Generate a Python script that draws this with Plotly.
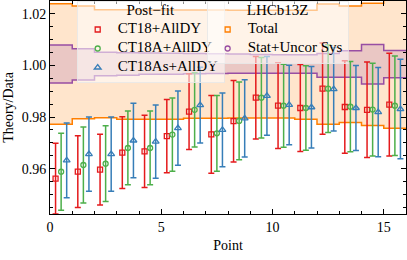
import numpy as np
import plotly.graph_objects as go

# ---- data ----
points = list(range(16))
ct18 = [0.9561, 0.9588, 0.9596, 0.9662, 0.9667, 0.9726, 0.9821, 0.9733,
        0.9784, 0.9875, 0.9844, 0.9835, 0.9910, 0.9839, 0.9828, 0.9848]
ct18_err = [0.0137, 0.0139, 0.0137, 0.0139, 0.0140, 0.0142, 0.0147, 0.0151,
            0.0158, 0.0160, 0.0166, 0.0169, 0.0177, 0.0179, 0.0185, 0.0199]
ct18a = [0.9588, 0.9614, 0.9619, 0.9680, 0.9680, 0.9732, 0.9828, 0.9737,
         0.9785, 0.9875, 0.9844, 0.9835, 0.9910, 0.9840, 0.9829, 0.9844]
ct18a_err = [0.0149, 0.0147, 0.0147, 0.0143, 0.0143, 0.0142, 0.0144, 0.0147,
             0.0151, 0.0156, 0.0161, 0.0164, 0.0170, 0.0175, 0.0180, 0.0193]
ct18as = [0.9632, 0.9656, 0.9656, 0.9709, 0.9705, 0.9757, 0.9846, 0.9750,
          0.9795, 0.9882, 0.9847, 0.9838, 0.9908, 0.9835, 0.9819, 0.9831]
ct18as_err = [0.0145, 0.0144, 0.0144, 0.0144, 0.0142, 0.0144, 0.0147, 0.0143,
              0.0150, 0.0153, 0.0154, 0.0158, 0.0162, 0.0165, 0.0173, 0.0193]

total_up = [1.0239, 1.0231, 1.0216, 1.0216, 1.0215, 1.0215, 1.0215, 1.0215,
            1.0214, 1.0214, 1.0214, 1.0214, 1.0238, 1.0231, 1.0241, 1.0253]
total_lo = [0.9772, 0.9793, 0.9797, 0.9791, 0.9791, 0.9791, 0.9795, 0.9795,
            0.9796, 0.9796, 0.9796, 0.9791, 0.9772, 0.9779, 0.9767, 0.9757]
stat_up = [1.0079, 1.0065, 1.0051, 1.0049, 1.0048, 1.0047, 1.0046, 1.0045,
           1.0044, 1.0043, 1.0042, 1.0042, 1.0046, 1.0057, 1.0081, 1.0058]
stat_lo = [0.9932, 0.9944, 0.9960, 0.9962, 0.9966, 0.9966, 0.9968, 0.9969,
           0.9970, 0.9970, 0.9970, 0.9970, 0.9954, 0.9954, 0.9928, 0.9952]

# ---- style ----
RED, GREEN, BLUE = "#e41a1c", "#4daf4a", "#377eb8"
ORANGE, PURPLE = "#ff7f00", "#984ea3"
FONT = "Liberation Serif"
LEGFS = 15

idx = np.array(points, dtype=float)
centers = idx + 0.5
edges = np.append(idx, idx[-1] + 1)


def stepped(v):
    return list(v) + [v[-1]]


def big(t):
    return f'<span style="font-size:{LEGFS}px">{t}</span>'


fig = go.Figure()

# bands
fig.add_trace(go.Scatter(x=edges, y=stepped(total_lo), mode="lines", line_shape="hv",
                         line=dict(color=ORANGE, width=1.5), showlegend=False, hoverinfo="skip"))
fig.add_trace(go.Scatter(x=edges, y=stepped(total_up), mode="lines", line_shape="hv",
                         line=dict(color=ORANGE, width=1.5), fill="tonexty",
                         fillcolor="rgba(255,127,0,0.2)", showlegend=False, hoverinfo="skip"))
fig.add_trace(go.Scatter(x=edges, y=stepped(stat_lo), mode="lines", line_shape="hv",
                         line=dict(color=PURPLE, width=1.5), showlegend=False, hoverinfo="skip"))
fig.add_trace(go.Scatter(x=edges, y=stepped(stat_up), mode="lines", line_shape="hv",
                         line=dict(color=PURPLE, width=1.5), fill="tonexty",
                         fillcolor="rgba(152,78,163,0.2)", showlegend=False, hoverinfo="skip"))

# series
series = [
    ("CT18+AllDY", ct18, ct18_err, RED, "square-open", 5, -0.25),
    ("CT18A+AllDY", ct18a, ct18a_err, GREEN, "circle-open", 5, 0.0),
    ("CT18As+AllDY", ct18as, ct18as_err, BLUE, "triangle-up-open", 6, 0.25),
]
for name, vals, errs, col, sym, sz, off in series:
    fig.add_trace(go.Scatter(
        x=centers + off, y=vals, mode="markers", name=big(name), legend="legend",
        marker=dict(symbol=sym, size=sz, color=col, line=dict(color=col, width=1.3)),
        error_y=dict(type="data", array=errs, visible=True, color=col, thickness=1.5, width=3),
    ))

# legend entries for bands
fig.add_trace(go.Scatter(x=[None], y=[None], mode="markers", name=big("Total"), legend="legend2",
                         marker=dict(symbol="square-open", size=5, color=ORANGE,
                                     line=dict(color=ORANGE, width=1.3))))
fig.add_trace(go.Scatter(x=[None], y=[None], mode="markers", name=big("Stat+Uncor Sys"), legend="legend2",
                         marker=dict(symbol="circle-open", size=5, color=PURPLE,
                                     line=dict(color=PURPLE, width=1.3))))

axis_common = dict(
    showgrid=False, zeroline=False, showline=True, linecolor="black", linewidth=1,
    mirror="allticks", ticks="inside", ticklen=5, tickcolor="black", tickwidth=1,
    tickfont=dict(family=FONT, size=14, color="black"), automargin=False,
)

fig.update_xaxes(range=[0, 16], tick0=0, dtick=5,
                 minor=dict(ticks="inside", dtick=1, ticklen=3, tickcolor="black"),
                 title=dict(text="Point", font=dict(family=FONT, size=14, color="black"), standoff=6),
                 **axis_common)
fig.update_yaxes(range=[0.9424, 1.0250], tick0=0.96, dtick=0.02, tickformat=".2f",
                 minor=dict(ticks="inside", dtick=0.005, ticklen=3, tickcolor="black"),
                 title=dict(text="Theory/Data", font=dict(family=FONT, size=14, color="black"), standoff=4),
                 **axis_common)

leg_common = dict(
    bgcolor="rgba(255,255,255,0.55)", bordercolor="rgba(230,230,230,0.8)", borderwidth=1,
    font=dict(family=FONT, size=10, color="black"), xanchor="left", yanchor="top",
    itemsizing="trace", itemwidth=30, tracegroupgap=0, traceorder="normal",
)

fig.update_layout(
    width=407, height=260,
    margin=dict(l=50, r=1, t=1, b=46),
    plot_bgcolor="white", paper_bgcolor="white",
    legend=dict(x=0.075, y=1.0, title=dict(text=big("Post\u2212fit"), side="top center",
                font=dict(family=FONT, size=10, color="black")), **leg_common),
    legend2=dict(x=0.44, y=1.0, title=dict(text=big("LHCb13Z"), side="top center",
                 font=dict(family=FONT, size=10, color="black")), **leg_common),
)

fig.write_html("out.html", post_script="document.body.style.margin='0px';",
               config={"displayModeBar": False})
